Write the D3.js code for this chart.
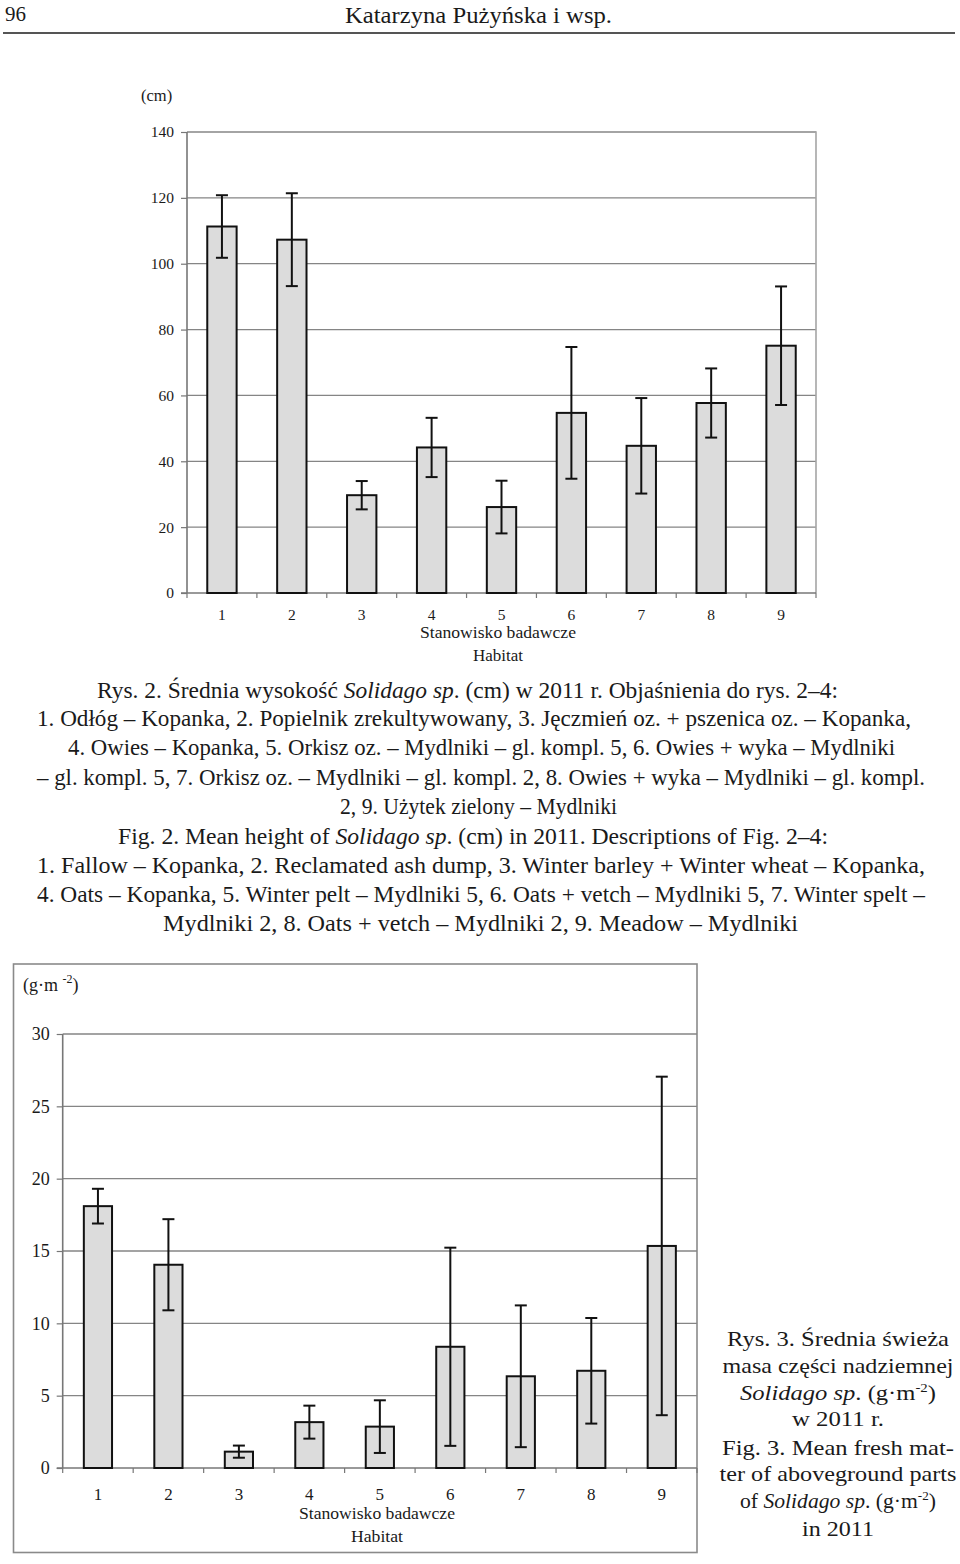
<!DOCTYPE html>
<html><head><meta charset="utf-8">
<script src="https://cdn.jsdelivr.net/npm/d3@7/dist/d3.min.js"></script>
<style>html,body{margin:0;padding:0;background:#fff}svg{display:block}text{font-family:"Liberation Serif","Times New Roman",serif;fill:#1a1a1a}</style>
</head><body><svg id="c" width="960" height="1564"></svg>
<script>
// ---- data ----
const categories = ["1","2","3","4","5","6","7","8","9"];
const heightMean = [111.3, 107.3, 29.7, 44.2, 26.1, 54.7, 44.7, 57.7, 75.1];
const heightErr  = [9.5, 14.1, 4.3, 9.0, 8.0, 20.0, 14.5, 10.5, 18.0];
const heightTicks = [0, 20, 40, 60, 80, 100, 120, 140];
const massMean = [18.1, 14.05, 1.13, 3.17, 2.86, 8.38, 6.34, 6.72, 15.35];
const massErr  = [1.2, 3.15, 0.42, 1.14, 1.82, 6.85, 4.9, 3.65, 11.7];
const massTicks = [0, 5, 10, 15, 20, 25, 30];

const svg = d3.select("#c");

// ---- header ----
svg.append("text").attr("x", 5).attr("y", 21).attr("font-size", 22).attr("textLength", 21).attr("lengthAdjust","spacingAndGlyphs").text("96");
svg.append("text").attr("x", 345).attr("y", 23).attr("font-size", 23).attr("textLength", 267).attr("lengthAdjust","spacingAndGlyphs").text("Katarzyna  Pużyńska i wsp.");
svg.append("line").attr("x1", 3).attr("x2", 955).attr("y1", 33).attr("y2", 33).attr("stroke", "#555").attr("stroke-width", 2);

function drawChart(o) {
  const g = svg.append("g");
  const x = d3.scaleBand().domain(categories).range([o.left, o.right]).paddingInner(o.pin).paddingOuter(o.pin / 2);
  const y = d3.scaleLinear().domain([0, o.max]).range([o.bottom, o.top]);
  // grid
  g.selectAll(".grid").data(o.ticks.filter(t => t > 0)).join("line")
    .attr("x1", o.left).attr("x2", o.right).attr("y1", d => y(d)).attr("y2", d => y(d))
    .attr("stroke", "#858585").attr("stroke-width", 1.3);
  if (o.frame) {
    g.append("path").attr("d", `M${o.left},${o.top}H${o.right}V${o.bottom}`).attr("fill","none").attr("stroke","#a5a5a5").attr("stroke-width",1.6);
  }
  // y axis
  const ya = d3.axisLeft(y).tickValues(o.ticks).tickSize(6).tickPadding(7).tickFormat(d3.format("d"));
  const yg = g.append("g").attr("transform", `translate(${o.left},0)`).call(ya);
  yg.attr("font-size", o.yfs).attr("font-family", "Liberation Serif");
  yg.select(".domain").attr("stroke", "#777").attr("stroke-width", 1.6).attr("d", `M0,${o.bottom}V${o.top}`);
  yg.selectAll(".tick line").attr("stroke", "#777").attr("stroke-width", 1.2);
  yg.selectAll(".tick text").attr("font-size", o.yfs).attr("fill", "#1a1a1a");
  // x baseline + ticks at boundaries
  const bounds = d3.range(categories.length + 1).map(i => o.left + i * x.step());
  g.append("line").attr("x1", o.left - 6).attr("x2", o.right).attr("y1", o.bottom).attr("y2", o.bottom).attr("stroke", "#777").attr("stroke-width", 1.6);
  g.selectAll(".xt").data(bounds).join("line").attr("x1", d => d).attr("x2", d => d)
    .attr("y1", o.bottom).attr("y2", o.bottom + 5).attr("stroke", "#777").attr("stroke-width", 1.2);
  // bars
  g.selectAll(".bar").data(o.mean).join("rect")
    .attr("x", (d, i) => x(categories[i])).attr("width", x.bandwidth())
    .attr("y", d => y(d)).attr("height", d => o.bottom - y(d))
    .attr("fill", "#dcdcdc").attr("stroke", "#111").attr("stroke-width", 2);
  // error bars
  const cx = i => x(categories[i]) + x.bandwidth() / 2;
  const eg = g.append("g").attr("stroke", "#111").attr("stroke-width", 2);
  o.mean.forEach((m, i) => {
    const e = o.err[i];
    eg.append("line").attr("x1", cx(i)).attr("x2", cx(i)).attr("y1", y(m + e)).attr("y2", y(m - e));
    eg.append("line").attr("x1", cx(i) - 6).attr("x2", cx(i) + 6).attr("y1", y(m + e)).attr("y2", y(m + e));
    eg.append("line").attr("x1", cx(i) - 6).attr("x2", cx(i) + 6).attr("y1", y(m - e)).attr("y2", y(m - e));
  });
  // x labels
  g.selectAll(".xl").data(categories).join("text")
    .attr("x", d => x(d) + x.bandwidth() / 2).attr("y", o.xlY).attr("text-anchor", "middle")
    .attr("font-size", o.xfs).text(d => d);
  g.append("text").attr("x", o.titleX - o.titleW / 2).attr("y", o.titleY).attr("font-size", o.tfs)
    .attr("textLength", o.titleW).attr("lengthAdjust", "spacingAndGlyphs").text("Stanowisko badawcze");
  g.append("text").attr("x", o.titleX - o.habW / 2).attr("y", o.titleY + o.habDy).attr("font-size", o.tfs)
    .attr("textLength", o.habW).attr("lengthAdjust", "spacingAndGlyphs").text("Habitat");
  return g;
}

// ---- chart 1 ----
drawChart({left: 187, right: 816, top: 132, bottom: 593, max: 140, ticks: heightTicks, pin: 0.58,
  mean: heightMean, err: heightErr, frame: true, yfs: 15.5, xfs: 15.5, xlY: 620,
  titleX: 498, titleY: 638, titleW: 156, habW: 50, habDy: 23, tfs: 17});
svg.append("text").attr("x", 141).attr("y", 101).attr("font-size", 16.5).text("(cm)");

// ---- caption 2 ----
const cap = [
  {x: 97, y: 698, w: 741, parts: [["Rys. 2. Średnia wysokość ",0],["Solidago sp",1],[". (cm) w 2011 r. Objaśnienia do rys. 2–4:",0]]},
  {x: 37, y: 726, w: 874, parts: [["1. Odłóg – Kopanka, 2. Popielnik zrekultywowany, 3. Jęczmień oz. + pszenica oz. – Kopanka,",0]]},
  {x: 68, y: 755, w: 827, parts: [["4. Owies – Kopanka, 5. Orkisz oz. – Mydlniki – gl. kompl. 5, 6. Owies + wyka – Mydlniki",0]]},
  {x: 37, y: 785, w: 888, parts: [["– gl. kompl. 5, 7. Orkisz oz. – Mydlniki – gl. kompl. 2, 8. Owies + wyka – Mydlniki – gl. kompl.",0]]},
  {x: 340, y: 814, w: 277, parts: [["2, 9. Użytek zielony – Mydlniki",0]]},
  {x: 118, y: 844, w: 710, parts: [["Fig. 2. Mean height of ",0],["Solidago sp",1],[". (cm) in 2011. Descriptions of Fig. 2–4:",0]]},
  {x: 37, y: 873, w: 888, parts: [["1. Fallow – Kopanka, 2. Reclamated ash dump, 3. Winter barley + Winter wheat – Kopanka,",0]]},
  {x: 37, y: 902, w: 888, parts: [["4. Oats – Kopanka, 5. Winter pelt – Mydlniki 5, 6. Oats + vetch – Mydlniki 5, 7. Winter spelt –",0]]},
  {x: 163, y: 931, w: 635, parts: [["Mydlniki 2, 8. Oats + vetch – Mydlniki 2, 9. Meadow – Mydlniki",0]]}
];
cap.forEach(l => {
  const t = svg.append("text").attr("x", l.x).attr("y", l.y).attr("font-size", 23)
    .attr("textLength", l.w).attr("lengthAdjust", "spacingAndGlyphs");
  l.parts.forEach(p => t.append("tspan").attr("font-style", p[1] ? "italic" : "normal").text(p[0]));
});

// ---- chart 2 ----
svg.append("rect").attr("x", 13.5).attr("y", 964).attr("width", 683.5).attr("height", 588.5)
  .attr("fill", "none").attr("stroke", "#8a8a8a").attr("stroke-width", 1.6);
drawChart({left: 62.7, right: 697, top: 1034, bottom: 1468, max: 30, ticks: massTicks, pin: 0.6,
  mean: massMean, err: massErr, frame: false, yfs: 18, xfs: 17, xlY: 1500,
  titleX: 377, titleY: 1519, titleW: 156, habW: 52, habDy: 23, tfs: 17});
const gm = svg.append("text").attr("x", 23).attr("y", 991).attr("font-size", 18);
gm.append("tspan").text("(g·m ");
gm.append("tspan").attr("font-size", 12).attr("dy", -8).text("-2");
gm.append("tspan").attr("dy", 8).text(")");

// ---- caption 3 ----
const cap3 = [
  {y: 1346, w: 222, parts: [["Rys. 3. Średnia świeża",0]]},
  {y: 1373, w: 231, parts: [["masa części nadziemnej",0]]},
  {y: 1400, w: 196, parts: [["Solidago sp",1],[". (g·m",0],["-2",2],[")",0]]},
  {y: 1426, w: 92, parts: [["w 2011 r.",0]]},
  {y: 1455, w: 232, parts: [["Fig. 3. Mean fresh mat-",0]]},
  {y: 1481, w: 237, parts: [["ter of aboveground parts",0]]},
  {y: 1508, w: 196, parts: [["of ",0],["Solidago sp",1],[". (g·m",0],["-2",2],[")",0]]},
  {y: 1536, w: 72, parts: [["in 2011",0]]}
];
cap3.forEach(l => {
  const t = svg.append("text").attr("x", 838 - l.w / 2).attr("y", l.y).attr("font-size", 21.5)
    .attr("textLength", l.w).attr("lengthAdjust", "spacingAndGlyphs");
  let sup = false;
  l.parts.forEach(p => {
    const s = t.append("tspan").text(p[0]);
    if (p[1] === 1) s.attr("font-style", "italic");
    if (p[1] === 2) { s.attr("font-size", 13).attr("dy", -8); sup = true; }
    else if (sup) { s.attr("dy", 8); sup = false; }
  });
});
</script></body></html>
